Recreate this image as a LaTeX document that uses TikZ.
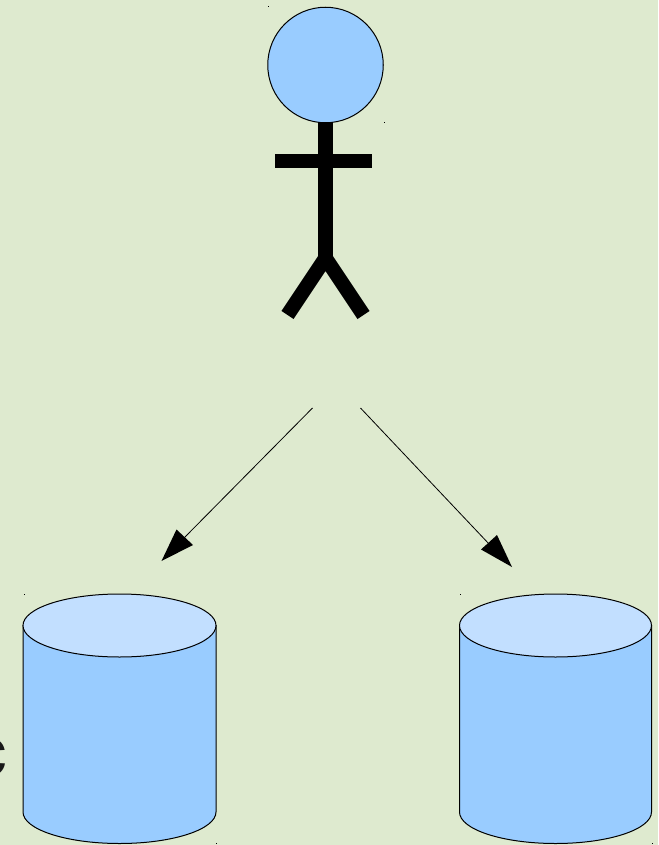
\documentclass[tikz,border=0pt]{standalone}
\usepackage{fontspec}
\setmainfont{Liberation Sans}
\definecolor{bg}{HTML}{DEEACF}
\definecolor{body}{HTML}{99CCFF}
\definecolor{lid}{HTML}{C2DFFF}
\tikzset{
  outline/.style={draw=black,line width=1pt},
  stick/.style={draw=black,line width=14.5pt},
  speck/.style={fill=black,inner sep=0pt,minimum size=1pt,shape=rectangle},
  flow/.style={draw=black,line width=0.8pt},
  tiptri/.style={fill=black,draw=none},
  drumbody/.style={fill=body},
  drumlid/.style={outline,fill=lid}
}
\begin{document}
\begin{tikzpicture}[x=1pt,y=-1pt]
\useasboundingbox (0,0) rectangle (658,845);
\clip (0,0) rectangle (658,845);
\fill[bg] (0,0) rectangle (658,845);
% cut-off glyph
\node[anchor=east,inner sep=0pt,text=black!90,font=\fontsize{72}{72}\selectfont\bfseries] (glyph) at (7.5,757) {c};
% stick figure
\coordinate (neck) at (325.5,122);
\coordinate (hip) at (325.5,258);
\coordinate (armL) at (275,161);
\coordinate (armR) at (371.5,161);
\coordinate (footL) at (287.5,315);
\coordinate (footR) at (363.5,315);
\draw[stick] (neck) -- (hip);
\draw[stick] (armL) -- (armR);
\draw[stick,line join=miter] (footL) -- (hip) -- (footR);
\node[circle,outline,fill=body,minimum size=115.5pt,inner sep=0pt] (head) at (325.5,65) {};
% arrows
\coordinate (a1) at (312.5,408);
\coordinate (b1) at (184,538);
\coordinate (tipa) at (161.5,561);
\coordinate (a2) at (360.5,408);
\coordinate (b2) at (490,545);
\coordinate (tipb) at (512,567);
\draw[flow] (a1) -- (b1);
\draw[flow] (a2) -- (b2);
\fill[tiptri] (tipa) -- (176.5,529.5) -- (193,545) -- cycle;
\fill[tiptri] (tipb) -- (481,549.5) -- (497,535) -- cycle;
% left cylinder
\path[drumbody] (23,625) -- (216,625) -- (216,812) arc[x radius=96.5,y radius=31.5,start angle=0,end angle=180] -- cycle;
\draw[outline] (23,625) -- (23,812) arc[x radius=96.5,y radius=31.5,start angle=180,end angle=0] -- (216,625);
\draw[drumlid] (119.5,625.5) ellipse[x radius=96.5,y radius=31.5];
% right cylinder
\path[drumbody] (459.5,625) -- (651.5,625) -- (651.5,812) arc[x radius=96,y radius=31.5,start angle=0,end angle=180] -- cycle;
\draw[outline] (459.5,625) -- (459.5,812) arc[x radius=96,y radius=31.5,start angle=180,end angle=0] -- (651.5,625);
\draw[drumlid] (555.5,625.5) ellipse[x radius=96,y radius=31.5];
% specks
\node[speck] (s1) at (268,7) {};
\node[speck] (s2) at (384,123) {};
\node[speck] (s3) at (24,594) {};
\node[speck] (s4) at (216,843.5) {};
\node[speck] (s5) at (460,594) {};
\node[speck] (s6) at (652,843.5) {};
\end{tikzpicture}
\end{document}
